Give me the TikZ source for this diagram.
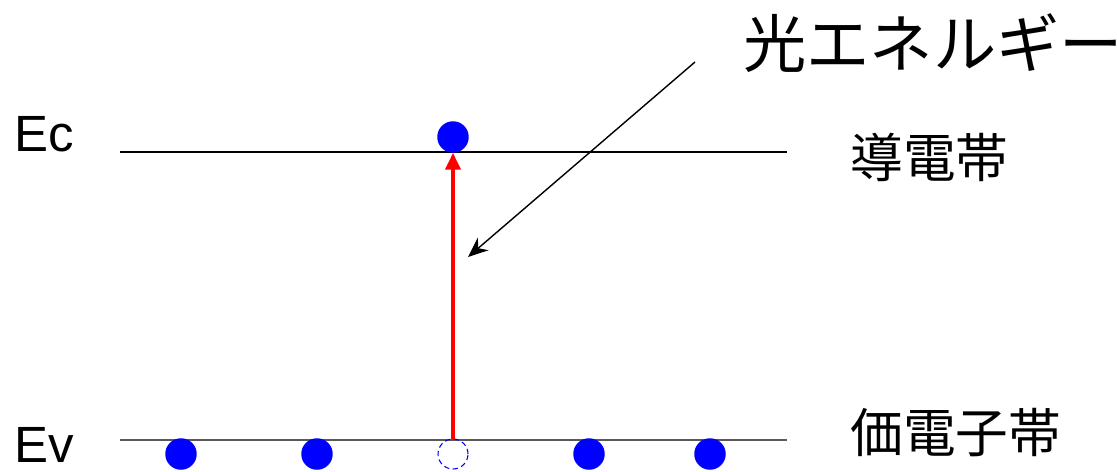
\documentclass[tikz,border=0pt]{standalone}
\usepackage{fontspec}
\setmainfont{Liberation Sans}
\newfontfamily\jpfont{Noto Sans CJK JP}
\usetikzlibrary{arrows.meta}
\tikzset{
  electron/.style={circle,fill=blue,draw=none,minimum size=0.63cm,inner sep=0pt,outer sep=0pt},
  hole/.style={circle,draw=blue,densely dashed,line width=0.6pt,minimum size=0.6cm,inner sep=0pt,outer sep=0pt},
  level/.style={font=\fontsize{29}{32}\selectfont,inner sep=0pt},
  band/.style={font=\jpfont\fontsize{30}{34}\selectfont,inner sep=0pt,anchor=west},
  excite/.style={red,line width=2.3pt,-{Triangle[length=3.4mm,width=3mm]}},
  pointer/.style={black,line width=0.8pt,-{Stealth[length=4mm,width=3.3mm]}}
}

\begin{document}
\begin{tikzpicture}[x=0.02cm,y=-0.02cm]
  \useasboundingbox (0,0) rectangle (1117,471);

  % ---- band edges ----
  \coordinate (ecL) at (120,152);
  \coordinate (ecR) at (787,152);
  \coordinate (evL) at (120,440);
  \coordinate (evR) at (787,440);
  \draw[line width=0.8pt] (ecL) -- (ecR);
  \draw[line width=1.1pt,black!65] (evL) -- (evR);
  \node[level] (ec) at (44,134) {Ec};
  \node[level] (ev) at (44,445) {Ev};
  \node[band] (cb) at (850,157) {導電帯};
  \node[band] (vb) at (850,433) {価電子帯};

  % ---- electrons ----
  \node[electron] (top) at (453,137) {};
  \foreach \x/\n in {181/1,317/2,589/4,710/5}
    \node[electron] (e\n) at (\x,454) {};
  \node[hole] (h) at (453,454) {};

  % ---- excitation ----
  \draw[excite] (h.north) -- (top.south);
  \node[band,font=\jpfont\fontsize{36}{40}\selectfont] (light) at (743,43) {光エネルギー};
  \coordinate (src) at (695,62);
  \coordinate (dst) at (468,257);
  \draw[pointer] (src) -- (dst);
\end{tikzpicture}
\end{document}
